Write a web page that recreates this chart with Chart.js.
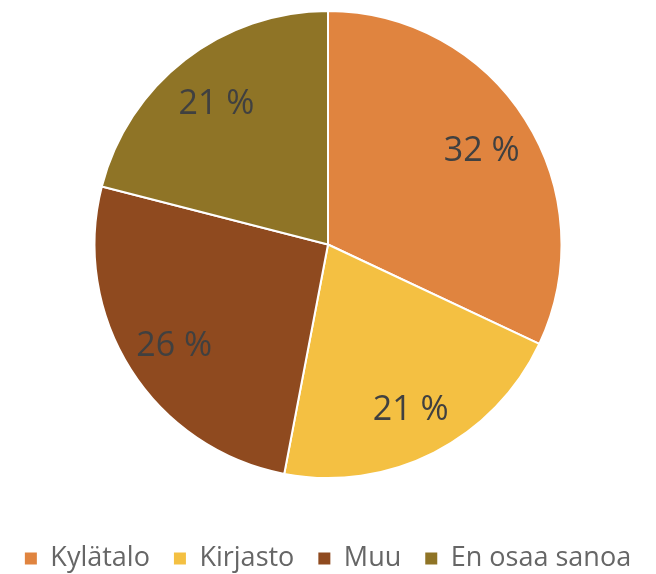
<!DOCTYPE html>
<html>
<head>
<meta charset="utf-8">
<script src="https://cdn.jsdelivr.net/npm/chart.js@4"></script>
<style>
  html, body { margin: 0; padding: 0; background: #fff; }
  #wrap { width: 656px; height: 574px; }
</style>
</head>
<body>
<div id="wrap"><canvas id="pie"></canvas></div>
<script>
const labels = ['Kylätalo', 'Kirjasto', 'Muu', 'En osaa sanoa'];
const values = [32, 21, 26, 21];
const colors = ['#E0843F', '#F4C042', '#8F4A1F', '#8F7426'];

// draws the "32 %" style labels inside each slice
const sliceLabels = {
  id: 'sliceLabels',
  afterDatasetsDraw(chart) {
    const ctx = chart.ctx;
    const meta = chart.getDatasetMeta(0);
    ctx.save();
    ctx.font = '34px "Open Sans", sans-serif';
    ctx.fillStyle = '#404040';
    ctx.textAlign = 'center';
    ctx.textBaseline = 'middle';
    meta.data.forEach((arc, i) => {
      const p = arc.getProps(['startAngle', 'endAngle', 'outerRadius', 'x', 'y'], true);
      const mid = (p.startAngle + p.endAngle) / 2;
      const r = p.outerRadius * 0.78;
      ctx.fillText(values[i] + ' %', p.x + Math.cos(mid) * r, p.y + Math.sin(mid) * r + 4);
    });
    ctx.restore();
  }
};

new Chart(document.getElementById('pie'), {
  type: 'pie',
  data: {
    labels: labels,
    datasets: [{
      data: values,
      backgroundColor: colors,
      borderColor: '#ffffff',
      borderWidth: 2,
      hoverOffset: 0
    }]
  },
  options: {
    responsive: true,
    maintainAspectRatio: false,
    animation: false,
    layout: { padding: { top: 10, bottom: -8 } },
    plugins: {
      tooltip: { enabled: false },
      legend: {
        position: 'bottom',
        align: 'center',
        // empty title only used as spacer above the legend row
        title: { display: true, text: '', font: { size: 10 }, padding: { top: 30, bottom: 0 } },
        labels: {
          color: '#595959',
          font: { family: '"Open Sans", sans-serif', size: 27, lineHeight: 0.6 },
          boxWidth: 12,
          boxHeight: 12,
          padding: 24,
          generateLabels(chart) {
            return labels.map((t, i) => ({
              text: t,
              fillStyle: colors[i],
              strokeStyle: colors[i],
              lineWidth: 0,
              index: i
            }));
          }
        }
      }
    }
  },
  plugins: [sliceLabels]
});
</script>
</body>
</html>
